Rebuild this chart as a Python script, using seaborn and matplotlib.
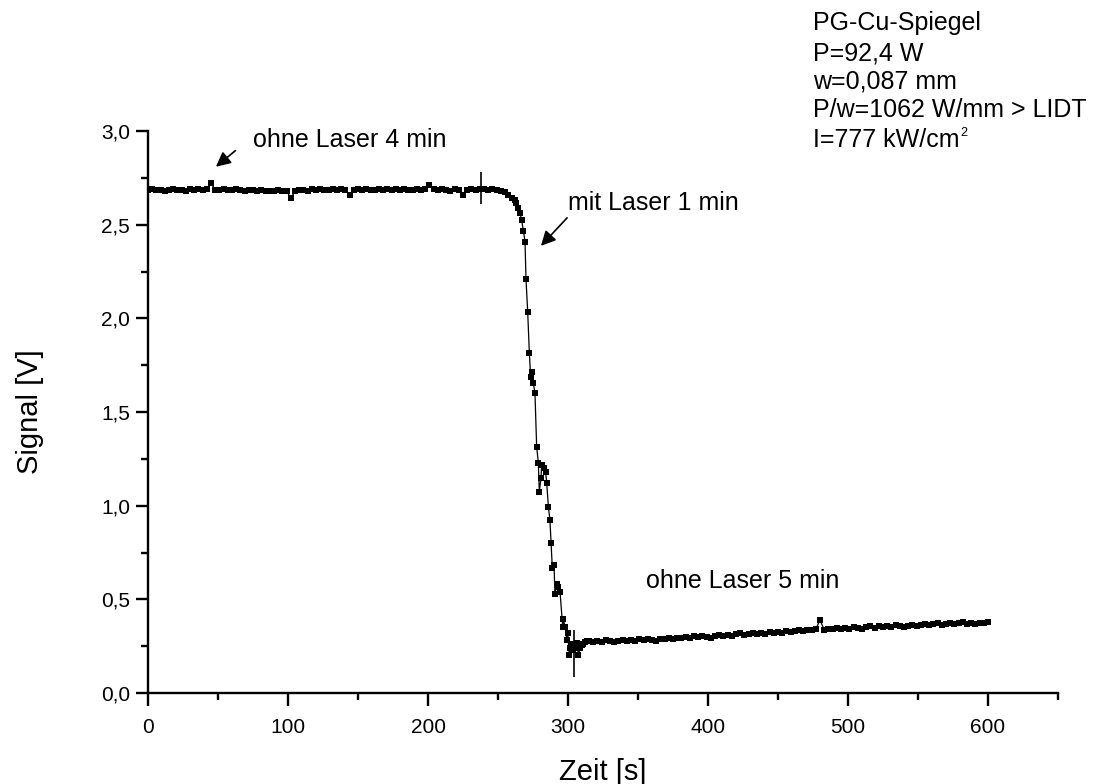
import numpy as np
import pandas as pd
import matplotlib
matplotlib.use("Agg")
import matplotlib.pyplot as plt
import seaborn as sns
from matplotlib.ticker import MultipleLocator, FuncFormatter

# --- measured signal -------------------------------------------------------
# phase 1: without laser, sampled every 3 s starting at t = 0
pre_start, pre_step = 0, 3
pre_signal = [
    2.684, 2.688, 2.683, 2.686, 2.680, 2.687, 2.690, 2.684, 2.686, 2.682,
    2.689, 2.685, 2.691, 2.686, 2.688, 2.721, 2.687, 2.684, 2.690, 2.686,
    2.683, 2.688, 2.685, 2.681, 2.686, 2.684, 2.680, 2.683, 2.679, 2.682,
    2.680, 2.684, 2.678, 2.681, 2.640, 2.679, 2.683, 2.686, 2.681, 2.688,
    2.684, 2.690, 2.686, 2.683, 2.689, 2.685, 2.691, 2.684, 2.660, 2.687,
    2.690, 2.685, 2.692, 2.687, 2.684, 2.689, 2.686, 2.691, 2.684, 2.688,
    2.683, 2.690, 2.687, 2.684, 2.689, 2.685, 2.691, 2.712, 2.688, 2.684,
    2.690, 2.686, 2.682, 2.688, 2.685, 2.659, 2.684, 2.690, 2.686, 2.689,
    2.691, 2.687, 2.690, 2.686, 2.682, 2.676,
]

# phase 2: with laser, signal collapse
drop_time = [
    257.4, 259.8, 262.1, 262.9, 264.5, 265.7, 266.9, 268.1, 269.3, 270.0,
    271.2, 272.4, 273.3, 274.0, 275.2, 276.4, 277.6, 278.8, 279.5, 280.7,
    281.2, 282.9, 284.0, 284.8, 286.0, 287.1, 287.9, 288.8, 290.0, 290.7,
    291.9, 293.1, 294.3, 296.2, 296.7, 297.9, 299.1, 299.8, 300.9, 301.4,
    302.6, 303.5, 304.3, 305.4, 306.4, 307.4, 308.6, 309.8, 311.0, 312.2,
    313.4,
]
drop_signal = [
    2.659, 2.641, 2.632, 2.618, 2.591, 2.561, 2.525, 2.468, 2.410, 2.209,
    2.036, 1.814, 1.689, 1.716, 1.654, 1.603, 1.315, 1.230, 1.075, 1.146,
    1.217, 1.200, 1.182, 1.120, 0.995, 0.924, 0.802, 0.666, 0.683, 0.527,
    0.580, 0.568, 0.541, 0.354, 0.393, 0.354, 0.283, 0.322, 0.205, 0.238,
    0.262, 0.231, 0.256, 0.242, 0.268, 0.205, 0.238, 0.258, 0.264, 0.271,
    0.279,
]

# phase 3: without laser again, sampled every 3 s starting at t = 315
post_start, post_step = 315, 3
post_signal = [
    0.276, 0.270, 0.279, 0.274, 0.281, 0.276, 0.272, 0.280, 0.284, 0.277,
    0.283, 0.279, 0.287, 0.282, 0.289, 0.284, 0.279, 0.290, 0.286, 0.294,
    0.289, 0.296, 0.291, 0.299, 0.294, 0.302, 0.297, 0.306, 0.300, 0.295,
    0.304, 0.309, 0.302, 0.311, 0.306, 0.313, 0.318, 0.310, 0.316, 0.321,
    0.314, 0.322, 0.317, 0.325, 0.320, 0.328, 0.322, 0.330, 0.325, 0.333,
    0.337, 0.330, 0.338, 0.334, 0.341, 0.390, 0.338, 0.344, 0.339, 0.347,
    0.342, 0.349, 0.344, 0.352, 0.347, 0.340, 0.351, 0.355, 0.348, 0.356,
    0.350, 0.358, 0.353, 0.361, 0.356, 0.352, 0.360, 0.364, 0.357, 0.363,
    0.368, 0.361, 0.366, 0.371, 0.364, 0.369, 0.374, 0.367, 0.372, 0.377,
    0.370, 0.375, 0.369, 0.376, 0.372, 0.379,
]

# laser on / off instants, drawn as short vertical bars
event_time = [238, 304]
event_low = [2.61, 0.085]
event_high = [2.78, 0.336]

x_ticks = [0, 100, 200, 300, 400, 500, 600]
y_ticks = [0.0, 0.5, 1.0, 1.5, 2.0, 2.5, 3.0]

info_lines = [
    "PG-Cu-Spiegel",
    "P=92,4 W",
    "w=0,087 mm",
    "P/w=1062 W/mm > LIDT",
    "I=777 kW/cm",
]
info_exponent = "2"

# --- assemble ------------------------------------------------------------------
pre_time = pre_start + pre_step * np.arange(len(pre_signal))
post_time = post_start + post_step * np.arange(len(post_signal))
df = pd.DataFrame({
    "t": np.concatenate([pre_time, drop_time, post_time]),
    "v": np.concatenate([pre_signal, drop_signal, post_signal]),
})

sns.set_theme(style="ticks")
plt.rcParams["font.family"] = ["Liberation Sans", "DejaVu Sans"]
for key in ["text.color", "axes.labelcolor", "xtick.color", "ytick.color", "axes.edgecolor"]:
    plt.rcParams[key] = "black"

W, H = 1096, 784
fig = plt.figure(figsize=(W / 100, H / 100), dpi=100)
x0, x1, y0, y1 = 148, 1058, 131, 693
ax = fig.add_axes([x0 / W, 1 - y1 / H, (x1 - x0) / W, (y1 - y0) / H])

sns.lineplot(data=df, x="t", y="v", sort=False, estimator=None,
             marker="s", markersize=3.8, markeredgewidth=0,
             color="black", linewidth=0.9, ax=ax)
ax.vlines(event_time, event_low, event_high, colors="black", linewidth=1.2)

ax.set_xlim(0, 650)
ax.set_ylim(0, 3.0)
ax.set_xticks(x_ticks)
ax.set_yticks(y_ticks)
ax.xaxis.set_minor_locator(MultipleLocator(50))
ax.yaxis.set_minor_locator(MultipleLocator(0.25))
ax.yaxis.set_major_formatter(FuncFormatter(lambda v, _: f"{v:.1f}".replace(".", ",")))

sns.despine(ax=ax)
for side in ["left", "bottom"]:
    ax.spines[side].set_linewidth(1.7)
ax.tick_params(which="major", direction="out", length=9, width=1.7, labelsize=15)
ax.tick_params(which="minor", direction="out", length=5, width=1.7)
ax.tick_params(axis="x", which="major", pad=9)
ax.tick_params(axis="y", which="major", pad=4)

ax.set_xlabel("Zeit [s]", fontsize=21)
ax.set_ylabel("Signal [V]", fontsize=21)
ax.xaxis.set_label_coords(0.5, (y1 - 758) / (y1 - y0))
ax.yaxis.set_label_coords((44 - x0) / (x1 - x0), 0.5)

ax.annotate("", xy=(47, 2.80), xytext=(64, 2.905),
            arrowprops=dict(arrowstyle="-|>", color="black", lw=1.2, mutation_scale=22))
ax.text(75, 2.915, "ohne Laser 4 min", fontsize=18, va="baseline", ha="left")

ax.annotate("", xy=(279.3, 2.376), xytext=(300.7, 2.547),
            arrowprops=dict(arrowstyle="-|>", color="black", lw=1.2, mutation_scale=22))
ax.text(300, 2.579, "mit Laser 1 min", fontsize=18, va="baseline", ha="left")

ax.text(356, 0.561, "ohne Laser 5 min", fontsize=18, va="baseline", ha="left")

# parameter block in the upper right corner, small raised exponent on the last line
baselines = [30, 60, 88, 117, 147]
info_texts = [fig.text(813 / W, 1 - b / H, line, fontsize=18, va="baseline", ha="left")
              for line, b in zip(info_lines, baselines)]
fig.canvas.draw()
last_box = info_texts[-1].get_window_extent(renderer=fig.canvas.get_renderer())
fig.text((last_box.x1 + 1) / W, 1 - (baselines[-1] - 11) / H, info_exponent,
         fontsize=9, va="baseline", ha="left")

fig.savefig("out.png", dpi=100)
